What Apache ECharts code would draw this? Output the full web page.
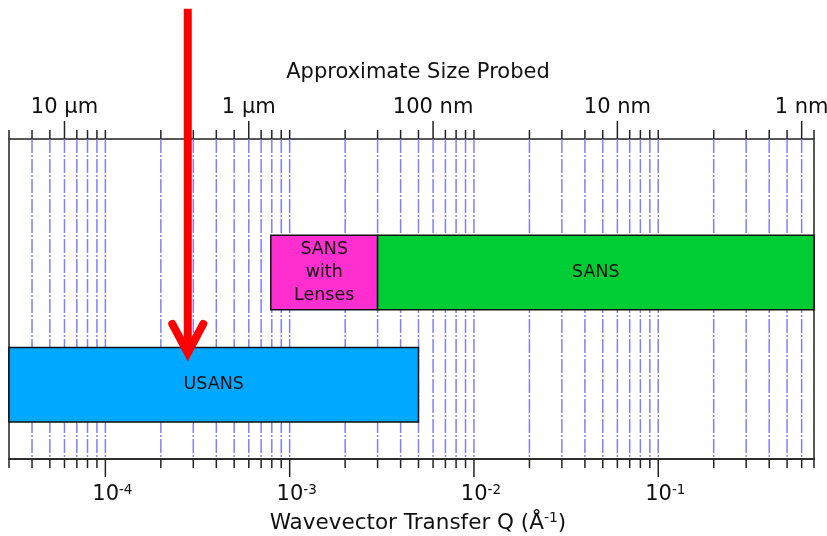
<!DOCTYPE html>
<html><head><meta charset="utf-8">
<script src="https://cdn.jsdelivr.net/npm/echarts@6/dist/echarts.min.js"></script>
<style>html,body{margin:0;padding:0;background:#fff}#c{width:827px;height:536px}</style>
</head><body><div id="c"></div>
<script>
// ---- data ----
const qMin = 3e-5, qMax = 0.7;
const qTicks = [3e-5,4e-5,5e-5,6e-5,7e-5,8e-5,9e-5,
  1e-4,2e-4,3e-4,4e-4,5e-4,6e-4,7e-4,8e-4,9e-4,
  1e-3,2e-3,3e-3,4e-3,5e-3,6e-3,7e-3,8e-3,9e-3,
  1e-2,2e-2,3e-2,4e-2,5e-2,6e-2,7e-2,8e-2,9e-2,
  0.1,0.2,0.3,0.4,0.5,0.6,0.7];
const qMajor = [1e-4,1e-3,1e-2,1e-1];
const qMajorExp = ['-4','-3','-2','-1'];
const sizeTickQ = [6e-5,6e-4,6e-3,6e-2,6e-1];
const sizeTickLabels = ['10 μm','1 μm','100 nm','10 nm','1 nm'];
const techNames = ['SANS\nwith\nLenses','SANS','USANS'];
const techQmin = [7.9e-4, 3e-3, 3e-5];
const techQmax = [3e-3, 0.7, 5e-3];
const techRow = [2, 2, 1];
const techColors = ['#FF2FCF', '#00CC33', '#00A9FF'];
const arrowQ = 2.8e-4;
const arrowFrom = 4.35;
const arrowTo = 1.283;

// ---- styles ----
const FONT = '"DejaVu Sans", Verdana, sans-serif';
const TXT = '#111';
const AX = '#222';
const HALF = 0.332;

const chart = echarts.init(document.getElementById('c'), null, {renderer: 'canvas'});

const tickData = qTicks.map(q => [q, 1]);
const barData = techNames.map((n, i) => [techQmin[i], techQmax[i], techRow[i]]);

chart.setOption({
  animation: false,
  grid: {left: 9, right: 13, top: 139, bottom: 77, show: true, borderColor: AX, borderWidth: 1.5, containLabel: false},
  xAxis: {
    type: 'log', logBase: 10, min: qMin, max: qMax, splitNumber: 5,
    axisLine: {show: true, lineStyle: {color: AX, width: 1.5}},
    axisTick: {show: false}, splitLine: {show: false},
    axisLabel: {
      margin: 24, color: TXT,
      formatter: function (v) {
        const idx = qMajor.findIndex(m => Math.abs(m - v) / m < 1e-6);
        if (idx < 0) return '';
        return '{b|10}{s|' + qMajorExp[idx] + '}';
      },
      rich: {
        b: {fontFamily: FONT, fontSize: 21, lineHeight: 24, color: TXT, padding: [0, 0, 0, 14]},
        s: {fontFamily: FONT, fontSize: 13.5, lineHeight: 15, verticalAlign: 'top', color: TXT}
      }
    }
  },
  yAxis: {type: 'value', min: 0.338, max: 3.19, show: false},
  graphic: [
    {type: 'text', x: 418, y: 73, style: {text: 'Approximate Size Probed', fontFamily: FONT, fontSize: 21, fill: TXT, align: 'center', verticalAlign: 'middle'}},
    {type: 'text', x: 418, y: 523, style: {text: '{a|Wavevector Transfer Q (Å}{s|-1}{a|)}', align: 'center', verticalAlign: 'middle', fill: TXT,
      rich: {a: {fontFamily: FONT, fontSize: 21.5, lineHeight: 24, fill: TXT, color: TXT}, s: {fontFamily: FONT, fontSize: 14, lineHeight: 15, verticalAlign: 'top', fill: TXT, color: TXT}}}}
  ],
  series: [
    { // gridlines and ticks
      type: 'custom', z: 1, silent: true,
      data: tickData,
      renderItem: function (params, api) {
        const q = api.value(0);
        const x = api.coord([q, 1])[0];
        const cs = params.coordSys;
        const top = cs.y, bot = cs.y + cs.height;
        const isBot = qMajor.indexOf(q) >= 0;
        const isTop = sizeTickQ.indexOf(q) >= 0;
        const children = [];
        if (q !== qMin && q !== qMax) {
          children.push({type: 'line', shape: {x1: x, y1: top, x2: x, y2: bot},
            style: {stroke: '#7f7fff', lineWidth: 1.5, lineDash: [14, 2, 2, 2]}});
        }
        children.push({type: 'line', shape: {x1: x, y1: bot, x2: x, y2: bot + (isBot ? 18 : 9)}, style: {stroke: AX, lineWidth: 1.5}});
        children.push({type: 'line', shape: {x1: x, y1: top - (isTop ? 18 : 9), x2: x, y2: top}, style: {stroke: AX, lineWidth: 1.5}});
        return {type: 'group', children: children};
      }
    },
    { // top size labels
      type: 'custom', z: 1, silent: true,
      data: sizeTickQ.map(q => [q, 1]),
      renderItem: function (params, api) {
        const x = api.coord([api.value(0), 1])[0];
        const cs = params.coordSys;
        return {type: 'text', x: x, y: cs.y - 31,
          style: {text: sizeTickLabels[params.dataIndex], fontFamily: FONT, fontSize: 21, fill: TXT, align: 'center', verticalAlign: 'middle'}};
      }
    },
    { // technique bars
      type: 'custom', z: 3, silent: true,
      data: barData,
      renderItem: function (params, api) {
        const i = params.dataIndex;
        const row = api.value(2);
        const p0 = api.coord([api.value(0), row + HALF]);
        const p1 = api.coord([api.value(1), row - HALF]);
        return {type: 'group', children: [
          {type: 'rect', shape: {x: p0[0], y: p0[1], width: p1[0] - p0[0], height: p1[1] - p0[1]},
            style: {fill: techColors[i], stroke: '#111', lineWidth: 1.5}},
          {type: 'text', x: (p0[0] + p1[0]) / 2, y: (p0[1] + p1[1]) / 2, z2: 10,
            style: {text: techNames[i], fontFamily: FONT, fontSize: 17.5, lineHeight: 23, fill: TXT, align: 'center', verticalAlign: 'middle'}}
        ]};
      }
    },
    { // red arrow
      type: 'custom', z: 5, silent: true,
      data: [[arrowQ, arrowFrom, arrowTo]],
      renderItem: function (params, api) {
        const a = api.coord([api.value(0), api.value(1)]);
        const b = api.coord([api.value(0), api.value(2)]);
        return {type: 'group', children: [
          {type: 'line', shape: {x1: a[0], y1: a[1], x2: b[0], y2: b[1] - 4}, style: {stroke: '#FF0000', lineWidth: 8}},
          {type: 'polyline', shape: {points: [[b[0] - 15.5, b[1] - 29], [b[0], b[1]], [b[0] + 15.5, b[1] - 29]]},
            style: {stroke: '#FF0000', lineWidth: 8, lineCap: 'round', lineJoin: 'miter', fill: null}}
        ]};
      }
    }
  ]
});
</script>
</body></html>
